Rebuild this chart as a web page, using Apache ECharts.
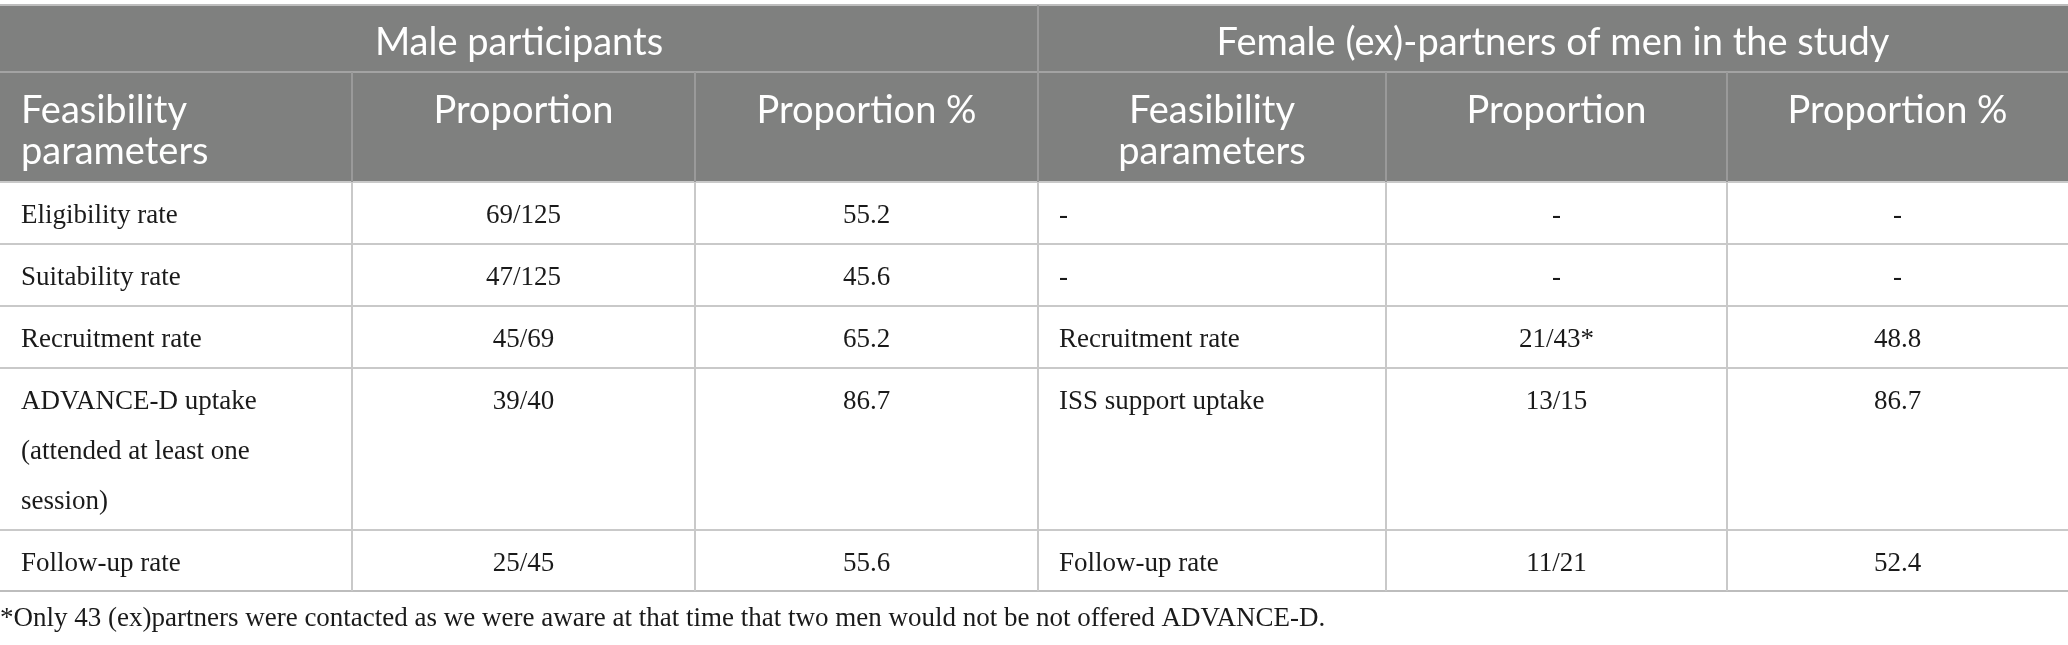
<!DOCTYPE html>
<html>
<head>
<meta charset="utf-8">
<script src="https://cdn.jsdelivr.net/npm/echarts@6/dist/echarts.min.js"></script>
<style>
html, body { margin: 0; padding: 0; background: #fff; }
#main { width: 2068px; height: 645px; }
</style>
</head>
<body>
<div id="main"></div>
<script>
// 表格数据
var groupTitles = ['Male participants', 'Female (ex)-partners of men in the study'];
var columnHeads = ['Feasibility\nparameters', 'Proportion', 'Proportion %', 'Feasibility\nparameters', 'Proportion', 'Proportion %'];
var maleParams = ['Eligibility rate', 'Suitability rate', 'Recruitment rate', 'ADVANCE-D uptake\n(attended at least one\nsession)', 'Follow-up rate'];
var maleProportion = ['69/125', '47/125', '45/69', '39/40', '25/45'];
var malePercent = [55.2, 45.6, 65.2, 86.7, 55.6];
var femaleParams = ['-', '-', 'Recruitment rate', 'ISS support uptake', 'Follow-up rate'];
var femaleProportion = ['-', '-', '21/43*', '13/15', '11/21'];
var femalePercent = [null, null, 48.8, 86.7, 52.4];
var footnote = '*Only 43 (ex)partners were contacted as we were aware at that time that two men would not be not offered ADVANCE-D.';

// 版面
var colX = [0, 352, 695, 1038, 1386, 1727, 2068];
var rowY = [5, 72, 182, 244, 306, 368, 530, 591];
var headFill = '#7f807f';
var lineColor = '#c9c9c9';
var headFont = 'Lato, "Open Sans", sans-serif';
var bodyFont = '"Liberation Serif", "DejaVu Serif", serif';

function pct(v) {
    return v == null ? '-' : v.toFixed(1);
}

var els = [];

// 表头底色
els.push({ type: 'rect', shape: { x: 0, y: rowY[0], width: colX[6], height: rowY[2] - rowY[0] }, style: { fill: headFill }, z: 1 });

// 横线
rowY.forEach(function (y, i) {
    els.push({
        type: 'line',
        shape: { x1: 0, y1: y, x2: colX[6], y2: y },
        style: { stroke: i === 0 || i === rowY.length - 1 ? '#bdbdbd' : (i < 2 ? '#a3a3a3' : lineColor), lineWidth: 2 },
        z: 3
    });
});

// 竖线
colX.forEach(function (x, i) {
    if (i === 0 || i === colX.length - 1) return;
    var top = (i === 3) ? rowY[0] : rowY[1];
    els.push({ type: 'line', shape: { x1: x, y1: top, x2: x, y2: rowY[2] }, style: { stroke: '#9a9a9a', lineWidth: 2 }, z: 3 });
    els.push({ type: 'line', shape: { x1: x, y1: rowY[2], x2: x, y2: rowY[rowY.length - 1] }, style: { stroke: lineColor, lineWidth: 2 }, z: 3 });
});

// 分组标题
groupTitles.forEach(function (t, g) {
    els.push({
        type: 'text', z: 5,
        style: { text: t, x: (colX[g * 3] + colX[g * 3 + 3]) / 2, y: (rowY[0] + rowY[1]) / 2 + 4, align: 'center', verticalAlign: 'middle', fill: '#fff', font: '400 38px ' + headFont }
    });
});

// 列标题
columnHeads.forEach(function (t, c) {
    var left = c === 0;
    els.push({
        type: 'text', z: 5,
        style: { text: t, x: left ? colX[c] + 21 : (colX[c] + colX[c + 1]) / 2, y: rowY[1] + 18, align: left ? 'left' : 'center', verticalAlign: 'top', fill: '#fff', font: '400 38px ' + headFont, lineHeight: 41 }
    });
});

// 表体
var cols = [maleParams, maleProportion, malePercent.map(pct), femaleParams, femaleProportion, femalePercent.map(pct)];
cols.forEach(function (vals, c) {
    var left = (c === 0 || c === 3);
    vals.forEach(function (t, r) {
        var top = rowY[r + 2], bottom = rowY[r + 3];
        var tall = (bottom - top) > 80;
        els.push({
            type: 'text', z: 5,
            style: {
                text: String(t),
                x: left ? colX[c] + 21 : (colX[c] + colX[c + 1]) / 2,
                y: tall ? top + 9 : (top + bottom) / 2 + 3,
                align: left ? 'left' : 'center',
                verticalAlign: tall ? 'top' : 'middle',
                fill: '#1a1a1a',
                font: '400 27px ' + bodyFont,
                lineHeight: 50
            }
        });
    });
});

// 脚注
els.push({
    type: 'text', z: 5,
    style: { text: footnote, x: 0, y: 619, align: 'left', verticalAlign: 'middle', fill: '#1a1a1a', font: '400 27px ' + bodyFont }
});

var myChart = echarts.init(document.getElementById('main'), null, { renderer: 'canvas' });
myChart.setOption({
    backgroundColor: '#fff',
    animation: false,
    graphic: { elements: els }
});
</script>
</body>
</html>
